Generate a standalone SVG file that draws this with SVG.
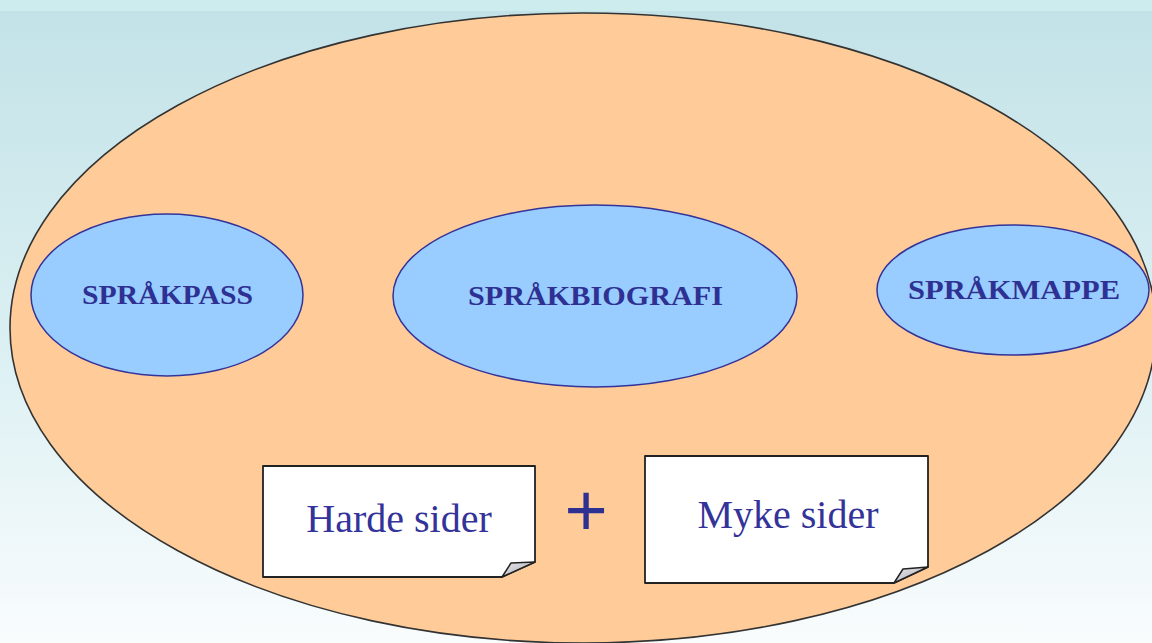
<svg xmlns="http://www.w3.org/2000/svg" width="1152" height="643" viewBox="0 0 1152 643">
  <defs>
    <linearGradient id="bg" x1="0" y1="0" x2="0" y2="1">
      <stop offset="0" stop-color="#c2e2e7"/>
      <stop offset="0.55" stop-color="#dcf0f3"/>
      <stop offset="1" stop-color="#f9fcfd"/>
    </linearGradient>
    <linearGradient id="curl" x1="0" y1="0" x2="1" y2="1">
      <stop offset="0" stop-color="#e8e8ec"/>
      <stop offset="1" stop-color="#a9aab2"/>
    </linearGradient>
    <style>
      .part { fill: #99ccff; stroke: #333399; stroke-width: 1.5; }
      .part-label { font-family: "Liberation Serif", "Times New Roman", serif; font-weight: bold; font-size: 26.5px; fill: #2e3192; text-anchor: start; }
      .sheet { fill: #ffffff; stroke: #222222; stroke-width: 1.8; stroke-linejoin: round; }
      .fold { fill: url(#curl); stroke: #222222; stroke-width: 1.5; stroke-linejoin: round; }
      .sheet-label { font-family: "Liberation Serif", "Times New Roman", serif; font-size: 40px; fill: #333399; text-anchor: middle; }
    </style>
  </defs>

  <!-- backdrop -->
  <rect x="0" y="0" width="1152" height="643" fill="url(#bg)"/>
  <rect x="0" y="0" width="1152" height="11" fill="#cdeced"/>

  <!-- the portfolio as a whole -->
  <g id="portfolio">
    <ellipse cx="583" cy="328" rx="573" ry="315" fill="#ffcc99" stroke="#333333" stroke-width="1.6"/>
  </g>

  <g id="sprakpass">
    <ellipse class="part" cx="167" cy="295" rx="136" ry="81"/>
    <text class="part-label" x="82" y="304" textLength="171" lengthAdjust="spacingAndGlyphs">SPRÅKPASS</text>
  </g>

  <g id="sprakbiografi">
    <ellipse class="part" cx="595" cy="296" rx="202" ry="91"/>
    <text class="part-label" x="468" y="305" textLength="255" lengthAdjust="spacingAndGlyphs">SPRÅKBIOGRAFI</text>
  </g>

  <g id="sprakmappe">
    <ellipse class="part" cx="1013" cy="290" rx="136" ry="65"/>
    <text class="part-label" x="908" y="299" textLength="212" lengthAdjust="spacingAndGlyphs">SPRÅKMAPPE</text>
  </g>

  <g id="harde-sider">
    <path class="sheet" d="M263,466 H535 V562 L502,577 H263 Z"/>
    <path class="fold" d="M502,577 L511,563 L535,562 Z"/>
    <text class="sheet-label" x="399" y="532">Harde sider</text>
  </g>

  <g id="plus">
    <text x="586" y="536" font-family="Liberation Sans, Arial, sans-serif" font-size="74" fill="#2e3192" text-anchor="middle">+</text>
  </g>

  <g id="myke-sider">
    <path class="sheet" d="M645,456 H928 V567 L894,583 H645 Z"/>
    <path class="fold" d="M894,583 L903,569 L928,567 Z"/>
    <text class="sheet-label" x="788" y="528">Myke sider</text>
  </g>

  <g id="connectors"></g>
</svg>
